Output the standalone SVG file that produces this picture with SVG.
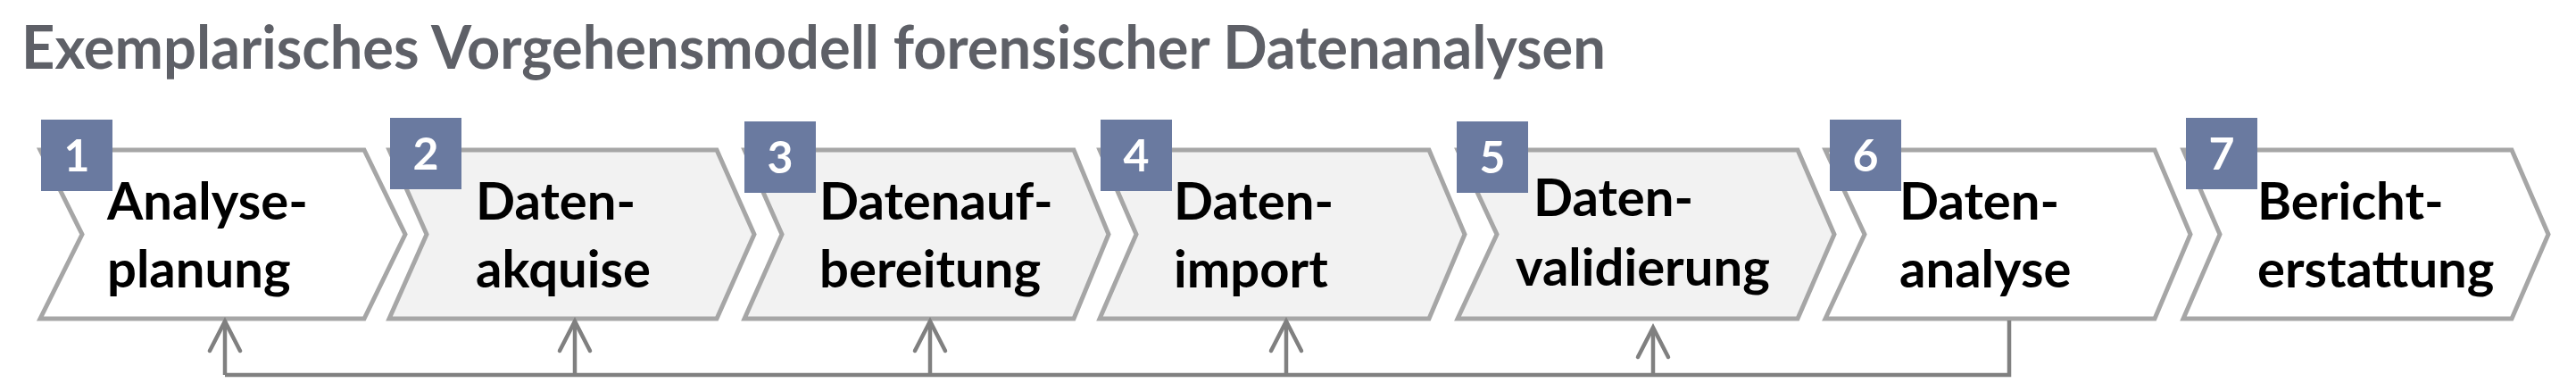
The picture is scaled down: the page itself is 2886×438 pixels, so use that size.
<svg xmlns="http://www.w3.org/2000/svg" width="2886" height="438" viewBox="0 0 2886 438">
<style>
.title{font-family:Lato,"Open Sans","Liberation Sans",sans-serif;font-weight:bold;font-size:66px;fill:#5e6067}
.shape{stroke:#a6a6a6;stroke-width:5;stroke-linejoin:miter}
.w{fill:#ffffff}
.g{fill:#f2f2f2}
.badge{fill:#6a7aa0}
.num{font-family:Lato,"Open Sans","Liberation Sans",sans-serif;font-weight:bold;font-size:50px;fill:#ffffff;text-anchor:middle}
.lbl{font-family:Lato,"Open Sans","Liberation Sans",sans-serif;font-weight:bold;font-size:58px;fill:#000000}
.conn{fill:none;stroke:#808080;stroke-width:4.5}
</style>
<defs>
<marker id="arr" markerUnits="userSpaceOnUse" viewBox="-40 -22 44 44" refX="0" refY="0" markerWidth="44" markerHeight="44" orient="auto" overflow="visible">
<path d="M-33,-17 L0,0 L-33,17" fill="none" stroke="#808080" stroke-width="4.5" stroke-linecap="round" stroke-linejoin="miter"/>
</marker>
</defs>
<text class="title" x="24" y="77" textLength="1775" lengthAdjust="spacingAndGlyphs">Exemplarisches Vorgehensmodell forensischer Datenanalysen</text>

<g id="node1">
<polygon class="shape w" points="45,168 408,168 454,262.5 408,357 45,357 92,262.5"/>
<rect class="badge" x="46" y="134" width="80" height="80"/>
<text class="num" x="86" y="192">1</text>
<text class="lbl" x="120" y="246">Analyse-</text>
<text class="lbl" x="120" y="322">planung</text>
</g>
<g id="node2">
<polygon class="shape g" points="436,168 803,168 845,262.5 803,357 436,357 478,262.5"/>
<rect class="badge" x="437" y="132" width="80" height="80"/>
<text class="num" x="477" y="190">2</text>
<text class="lbl" x="533" y="246">Daten-</text>
<text class="lbl" x="533" y="322">akquise</text>
</g>
<g id="node3">
<polygon class="shape g" points="834,168 1203,168 1242,262.5 1203,357 834,357 876,262.5"/>
<rect class="badge" x="834" y="136" width="80" height="80"/>
<text class="num" x="874" y="194">3</text>
<text class="lbl" x="918" y="246">Datenauf-</text>
<text class="lbl" x="918" y="322">bereitung</text>
</g>
<g id="node4">
<polygon class="shape g" points="1232,168 1601,168 1641,262.5 1601,357 1232,357 1273,262.5"/>
<rect class="badge" x="1233" y="134" width="80" height="80"/>
<text class="num" x="1273" y="192">4</text>
<text class="lbl" x="1315" y="246">Daten-</text>
<text class="lbl" x="1315" y="322">import</text>
</g>
<g id="node5">
<polygon class="shape g" points="1633,168 2014,168 2055,262.5 2014,357 1633,357 1677,262.5"/>
<rect class="badge" x="1632" y="136" width="80" height="80"/>
<text class="num" x="1672" y="194">5</text>
<text class="lbl" x="1718" y="242">Daten-</text>
<text class="lbl" x="1698" y="320">validierung</text>
</g>
<g id="node6">
<polygon class="shape w" points="2045,168 2414,168 2454,262.5 2414,357 2045,357 2089,262.5"/>
<rect class="badge" x="2050" y="134" width="80" height="80"/>
<text class="num" x="2090" y="192">6</text>
<text class="lbl" x="2128" y="246">Daten-</text>
<text class="lbl" x="2128" y="322">analyse</text>
</g>
<g id="node7">
<polygon class="shape w" points="2446,168 2814,168 2855,262.5 2814,357 2446,357 2487,262.5"/>
<rect class="badge" x="2449" y="132" width="80" height="80"/>
<text class="num" x="2489" y="190">7</text>
<text class="lbl" x="2529" y="246">Bericht-</text>
<text class="lbl" x="2529" y="322">erstattung</text>
</g>

<g id="connectors">
<polyline class="conn" points="2251,359 2251,420 252,420"/>
<line class="conn" x1="252" y1="420" x2="252" y2="360" marker-end="url(#arr)"/>
<line class="conn" x1="644" y1="420" x2="644" y2="360" marker-end="url(#arr)"/>
<line class="conn" x1="1042" y1="420" x2="1042" y2="360" marker-end="url(#arr)"/>
<line class="conn" x1="1441" y1="420" x2="1441" y2="360" marker-end="url(#arr)"/>
<line class="conn" x1="1852" y1="420" x2="1852" y2="367" marker-end="url(#arr)"/>
</g>
</svg>
